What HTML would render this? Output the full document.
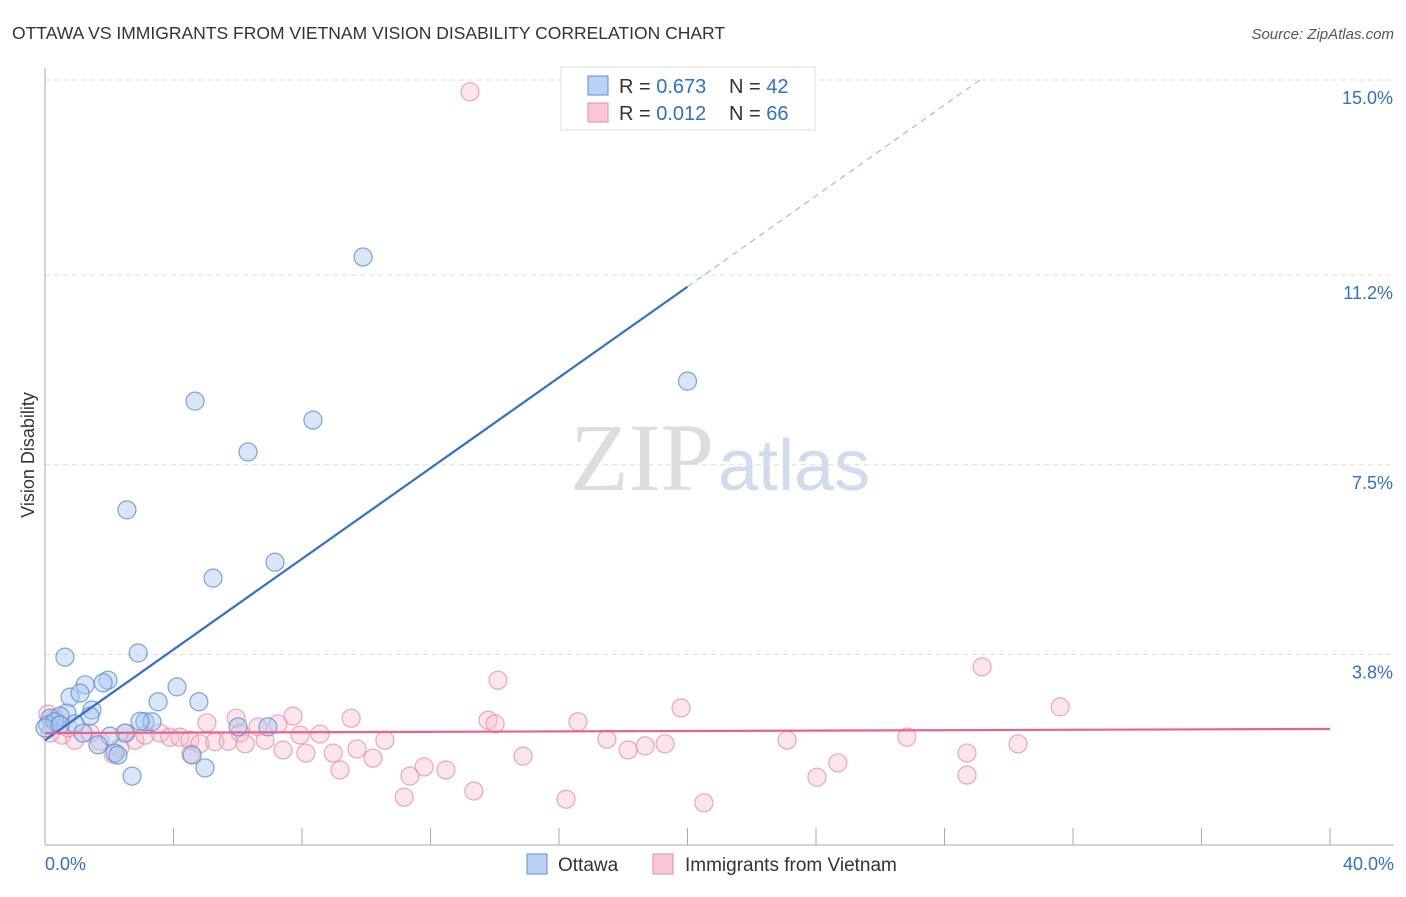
<!DOCTYPE html>
<html><head><meta charset="utf-8"><style>
body{margin:0;background:#fff;font-family:"Liberation Sans",sans-serif;}
</style></head><body>
<svg width="1406" height="892" xmlns="http://www.w3.org/2000/svg" id="svg">
<text x="12" y="39" font-size="17.5" fill="#333">OTTAWA VS IMMIGRANTS FROM VIETNAM VISION DISABILITY CORRELATION CHART</text>
<text x="1394" y="39" font-size="15" fill="#555" font-style="italic" text-anchor="end">Source: ZipAtlas.com</text>
<text x="714" y="490" font-size="96" fill="#ddd" text-anchor="end" font-family="Liberation Serif,serif">ZIP</text>
<text x="718" y="490" font-size="72" fill="#cfdcf0">atlas</text>
<text transform="translate(34,455) rotate(-90)" font-size="18" fill="#333" text-anchor="middle">Vision Disability</text>
<g id="grid"></g><g id="axes"></g><g id="pts"></g><g id="lines"></g>
<g>
<rect x="561" y="67" width="254" height="63" fill="#fff" stroke="#ddd"/>
<rect x="588" y="76" width="20" height="19" fill="#b8d3f4" stroke="#5b8fd6"/>
<text x="619" y="93" font-size="20" fill="#333">R = <tspan fill="#2f6fd0">0.673</tspan></text>
<text x="729" y="93" font-size="20" fill="#333">N = <tspan fill="#2f6fd0">42</tspan></text>
<rect x="588" y="103" width="20" height="19" fill="#f9c6d5" stroke="#e88aa5"/>
<text x="619" y="120" font-size="20" fill="#333">R = <tspan fill="#2f6fd0">0.012</tspan></text>
<text x="729" y="120" font-size="20" fill="#333">N = <tspan fill="#2f6fd0">66</tspan></text>
</g>
<g>
<rect x="527" y="854" width="20" height="20" fill="#b8d3f4" stroke="#5b8fd6"/>
<text x="558" y="871" font-size="19" fill="#333">Ottawa</text>
<rect x="653" y="854" width="20" height="20" fill="#f9c6d5" stroke="#e88aa5"/>
<text x="685" y="871" font-size="19" fill="#333">Immigrants from Vietnam</text>
</g>
</svg>
<script>
const yTicks=[15.0,11.2,7.5,3.8];
const yTickLabels=["15.0%","11.2%","7.5%","3.8%"];
const xTickCount=10;
const ottawaX=[9.9,4.67,8.34,20.0,6.32,2.55,5.23,7.16,0.62,2.9,1.96,1.25,1.81,0.78,1.09,4.11,3.52,4.79,1.46,0.68,0.16,0.47,1.4,0.09,0.31,0.93,3.11,3.33,2.96,2.49,1.18,2.02,1.65,2.18,2.27,4.58,4.98,2.71,6.94,6.01,0,0.47];
const ottawaY=[11.55,8.74,8.37,9.13,7.75,6.62,5.29,5.6,3.75,3.83,3.3,3.21,3.25,2.97,3.05,3.17,2.88,2.88,2.72,2.66,2.56,2.6,2.6,2.43,2.49,2.45,2.49,2.49,2.5,2.27,2.27,2.21,2.04,1.88,1.84,1.84,1.59,1.43,2.39,2.39,2.37,2.43];
const vietX=[13.23,29.17,14.1,31.6,19.8,5.95,7.72,9.53,13.79,14.01,16.59,5.04,7.25,6.63,6.07,8.56,7.94,2.52,3.58,3.89,4.2,4.51,4.82,5.29,5.7,6.23,6.85,10.58,17.49,18.68,19.3,18.15,23.1,26.83,30.29,28.7,7.41,8.12,8.97,9.71,10.21,14.88,4.54,2.12,2.8,9.18,11.8,12.48,11.36,24.68,24.03,28.7,11.18,13.35,16.22,20.51,0.09,0.31,0.53,0.93,1.71,1.4,2.33,3.11,0.16,0.72];
const vietY=[14.77,3.56,3.3,2.78,2.76,2.56,2.6,2.56,2.52,2.45,2.49,2.47,2.45,2.39,2.27,2.25,2.23,2.27,2.27,2.19,2.19,2.13,2.06,2.1,2.11,2.06,2.13,2.13,2.15,2.02,2.06,1.94,2.13,2.19,2.06,1.88,1.94,1.88,1.88,1.96,1.78,1.82,1.86,1.86,2.13,1.55,1.61,1.55,1.43,1.69,1.41,1.45,1.02,1.14,0.98,0.91,2.64,2.56,2.23,2.13,2.11,2.27,1.98,2.23,2.27,2.37];
const ottawaTrend=[[0,2.13],[20,10.97],[29.1,15]];
const vietTrend=[[0,2.27],[40,2.35]];
const NS="http://www.w3.org/2000/svg";
const sx=v=>45+v*32.125, sy=v=>80+(15-v)*51.3;
function mk(t,a,p){const e=document.createElementNS(NS,t);for(const k in a)e.setAttribute(k,a[k]);document.getElementById(p).appendChild(e);return e;}
yTicks.forEach((t,i)=>{
 const l=mk('line',{x1:45,x2:1394,y1:sy(t),y2:sy(t),stroke:'#ddd','stroke-dasharray':'5,4'},'grid');
 
 
 const tx=mk('text',{x:1393,y:sy(t)+24,'font-size':18,fill:'#2f6fd0','text-anchor':'end'},'grid');
 tx.textContent=yTickLabels[i];
 
 
});
const ax=mk('line',{x1:45,x2:45,y1:68,y2:845,stroke:'#aaa'},'axes');


const bx=mk('line',{x1:45,x2:1394,y1:845,y2:845,stroke:'#aaa'},'axes');


for(let i=1;i<=xTickCount;i++){const t=mk('line',{x1:sx(i*4),x2:sx(i*4),y1:828,y2:845,stroke:'#aaa'},'axes');
 
 }
[["0.0%",45,"start"],["40.0%",1394,"end"]].forEach(a=>{const t=mk('text',{x:a[1],y:870,'font-size':18,fill:'#2f6fd0','text-anchor':a[2]},'axes');t.textContent=a[0];
 
 });
vietX.forEach((x,i)=>{const c=mk('circle',{cx:sx(x),cy:sy(vietY[i]),r:9,fill:'rgba(247,182,200,0.35)',stroke:'rgba(232,138,165,0.75)','stroke-width':1.2},'pts');
 
 });
ottawaX.forEach((x,i)=>{const c=mk('circle',{cx:sx(x),cy:sy(ottawaY[i]),r:9,fill:'rgba(168,200,240,0.45)',stroke:'rgba(91,143,214,0.8)','stroke-width':1.2},'pts');
 
 });
const l1=mk('line',{x1:sx(ottawaTrend[0][0]),y1:sy(ottawaTrend[0][1]),x2:sx(ottawaTrend[1][0]),y2:sy(ottawaTrend[1][1]),stroke:'#2f6fd0','stroke-width':2.2},'lines');


const l2=mk('line',{x1:sx(ottawaTrend[1][0]),y1:sy(ottawaTrend[1][1]),x2:sx(ottawaTrend[2][0]),y2:sy(ottawaTrend[2][1]),stroke:'#8fb0e0','stroke-width':1,'stroke-dasharray':'6,5'},'lines');


const l3=mk('line',{x1:sx(vietTrend[0][0]),y1:sy(vietTrend[0][1]),x2:sx(vietTrend[1][0]),y2:sy(vietTrend[1][1]),stroke:'#e8628c','stroke-width':2.2},'lines');


</script>
</body></html>
